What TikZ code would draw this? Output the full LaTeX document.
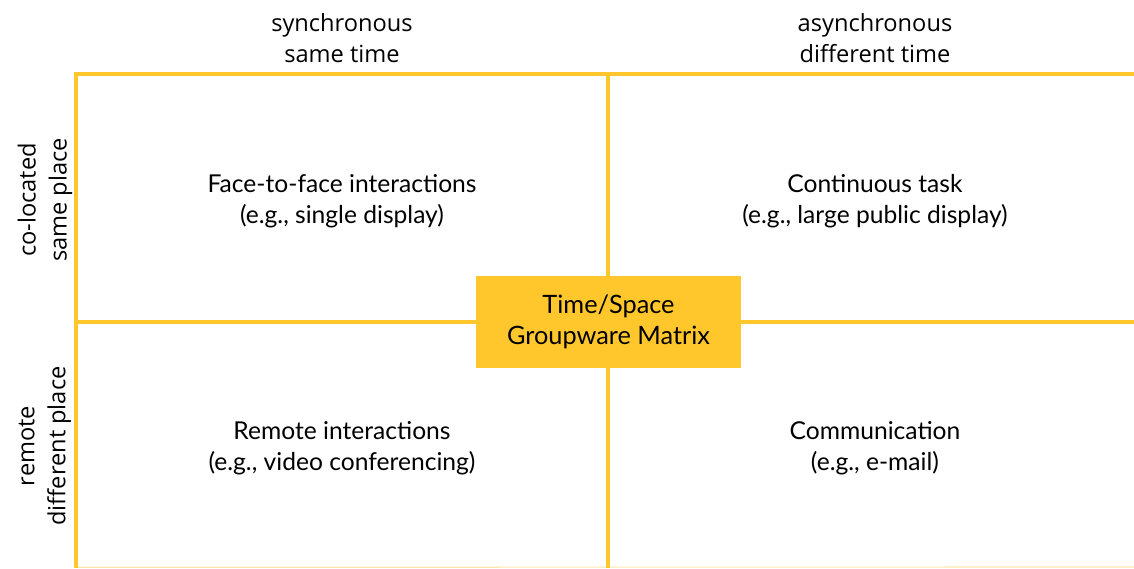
\documentclass[tikz,border=0pt]{standalone}
\usepackage{fontspec}
\setmainfont{Open Sans}
\newfontfamily\quadfont{Lato}
\usetikzlibrary{positioning}
\definecolor{matrixyellow}{RGB}{255,199,44}
\definecolor{paleyellow}{RGB}{250,232,170}

\begin{document}
\begin{tikzpicture}[
  x=0.025cm, y=-0.025cm,
  grid/.style={draw=matrixyellow,line width=2.8pt},
  head/.style={align=center,font=\fontsize{16.8}{22}\selectfont,inner sep=0pt},
  side/.style={head,rotate=90},
  quad/.style={align=center,font=\quadfont\fontsize{17.5}{22}\selectfont,inner sep=0pt},
  centrebox/.style={fill=matrixyellow,minimum width=6.625cm,minimum height=2.3cm,align=center,font=\quadfont\fontsize{18}{22.5}\selectfont}
]
\useasboundingbox (0,0) rectangle (1134,568);

% ----- Axes -----------------------------------------------------------------
\coordinate (tl) at (76,74);
\coordinate (tr) at (1134,74);
\coordinate (bl) at (76,568);
\coordinate (tm) at (608,74);
\coordinate (bm) at (608,568);
\coordinate (ml) at (76,322);
\coordinate (mr) at (1134,322);
\coordinate (br) at (1134,567);

\draw[paleyellow,line width=0.8pt] ([yshift=0.5]bl) -- (br);
\draw[grid] (tr) -- (tl) -- (bl);
\draw[grid] (tm) -- (bm);
\draw[grid] (ml) -- (mr);

% ----- Headers --------------------------------------------------------------
\node[head] (sync)  at (342,38) {synchronous\\same time};
\node[head] (async) at (875,38) {asynchronous\\different time};
\node[side] (coloc) at (45,200) {co-located\\same place};
\node[side] (remote) at (45,446) {remote\\different place};

% ----- Quadrants ------------------------------------------------------------
\node[quad] (f2f)  at (342,201) {Face-to-face interactions\\(e.g., single display)};
\node[quad] (cont) at (875,201) {Continuous task\\(e.g., large public display)};
\node[quad] (rem)  at (342,448) {Remote interactions\\(e.g., video conferencing)};
\node[quad] (comm) at (875,448) {Communication\\(e.g., e-mail)};

% ----- Centre ---------------------------------------------------------------
\node[centrebox] (matrix) at (608.5,322) {Time/Space\\Groupware Matrix};

\end{tikzpicture}
\end{document}
